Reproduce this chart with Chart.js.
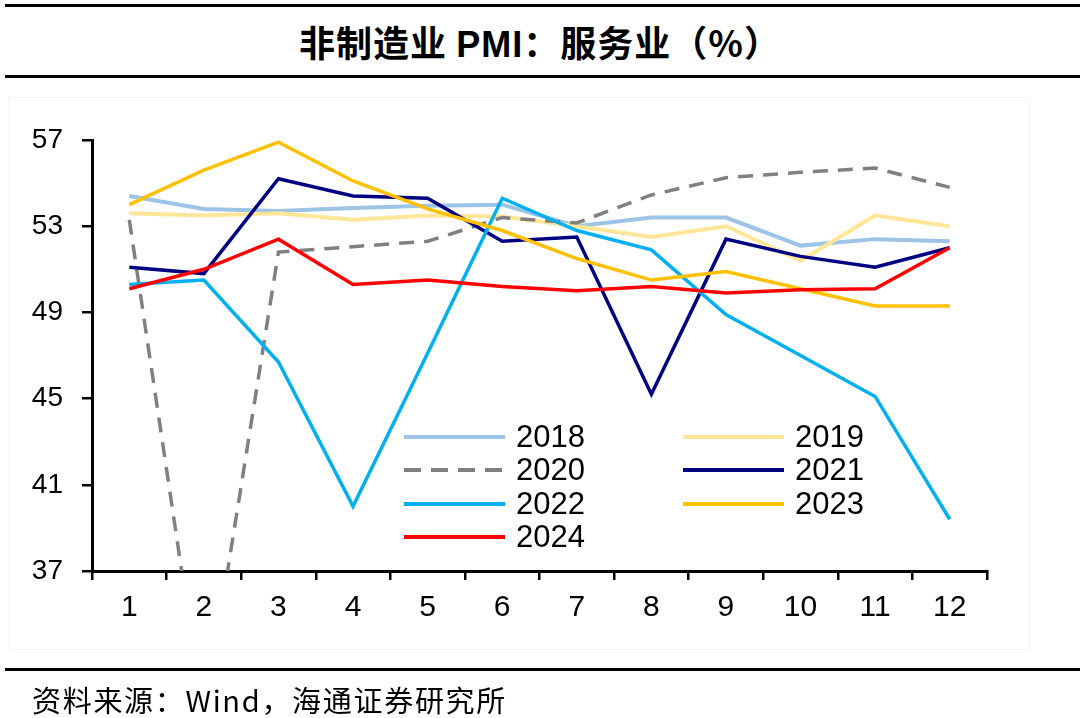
<!DOCTYPE html>
<html lang="zh-CN">
<head>
    <meta charset="UTF-8">
    <title>非制造业PMI：服务业</title>
    <script src="https://cdn.jsdelivr.net/npm/chart.js"></script>
    <style>
        body {
            margin: 0;
            width: 1080px;
            height: 718px;
            background: #fff;
            position: relative;
            overflow: hidden;
            font-family: "Liberation Sans", Arial, sans-serif;
        }
        .rule {
            position: absolute;
            left: 5px;
            right: 0;
            height: 3px;
            background: #000;
        }
        .title {
            position: absolute;
            top: 15px;
            left: 0;
            width: 1080px;
            text-align: center;
            font: bold 36px "Noto Sans CJK SC", sans-serif;
            letter-spacing: 1px;
            color: #000;
        }
        .title b {
            font-family: "Liberation Sans", Arial, sans-serif;
        }
        .panel {
            position: absolute;
            left: 8px;
            top: 97px;
            width: 1020px;
            height: 551px;
            border: 1px solid #f5f5f5;
        }
        #chart {
            position: absolute;
            left: 0;
            top: 0;
        }
        .legend-item {
            position: absolute;
            height: 34px;
            display: flex;
            align-items: center;
            font-size: 31px;
            color: #000;
        }
        .legend-item svg {
            margin-right: 11px;
        }
        .source {
            position: absolute;
            left: 32px;
            top: 678px;
            font: 29px "Noto Sans CJK SC", sans-serif;
            letter-spacing: 1.7px;
            color: #000;
            white-space: nowrap;
        }
    </style>
</head>
<body>
    <div class="rule" style="top:4px"></div>
    <div class="title">非制造业 <b>PMI</b>：服务业（%）</div>
    <div class="rule" style="top:75px"></div>
    <div class="panel"></div>
    <canvas id="chart" width="1080" height="718"></canvas>
    <div id="legend"></div>
    <div class="rule" style="top:668px"></div>
    <div class="source">资料来源：Wind，海通证券研究所</div>

    <script>
        // 月份
        const months = ['1', '2', '3', '4', '5', '6', '7', '8', '9', '10', '11', '12'];
        const years = ['2018', '2019', '2020', '2021', '2022', '2023', '2024'];

        // 服务业PMI
        const pmi2018 = [54.4, 53.8, 53.7, 53.85, 53.95, 54.0, 53.0, 53.4, 53.4, 52.1, 52.4, 52.3];
        const pmi2019 = [53.6, 53.5, 53.6, 53.3, 53.5, 53.45, 53.0, 52.5, 53.0, 51.4, 53.5, 53.0];
        const pmi2020 = [53.3, 30.1, 51.8, 52.05, 52.3, 53.4, 53.15, 54.45, 55.25, 55.5, 55.7, 54.8];
        const pmi2021 = [51.1, 50.8, 55.2, 54.4, 54.3, 52.3, 52.5, 45.2, 52.4, 51.6, 51.1, 52.0];
        const pmi2022 = [50.3, 50.5, 46.7, 40.0, 47.1, 54.3, 52.8, 51.9, 48.9, 47.0, 45.1, 39.4];
        const pmi2023 = [54.0, 55.6, 56.9, 55.1, 53.8, 52.8, 51.5, 50.5, 50.9, 50.1, 49.3, 49.3];
        const pmi2024 = [50.1, 51.0, 52.4, 50.3, 50.5, 50.2, 50.0, 50.2, 49.9, 50.05, 50.1, 52.0];

        const yTicks = [37, 41, 45, 49, 53, 57];

        const seriesData = [pmi2018, pmi2019, pmi2020, pmi2021, pmi2022, pmi2023, pmi2024];
        const colors = ['#9DC3E6', '#FFE699', '#808080', '#000080', '#00B0F0', '#FFC000', '#FF0000'];
        const dashes = [[], [], [15, 10], [], [], [], []];

        const datasets = years.map(function (y, i) {
            return {
                label: y,
                data: seriesData[i],
                borderColor: colors[i],
                borderWidth: i < 2 ? 4 : 3.5,
                borderDash: dashes[i],
                pointRadius: 0,
                tension: 0,
                fill: false,
                order: years.length - i
            };
        });

        const font = "'Liberation Sans', Arial, sans-serif";

        new Chart(document.getElementById('chart'), {
            type: 'line',
            data: { labels: months, datasets: datasets },
            options: {
                responsive: false,
                animation: false,
                devicePixelRatio: 1,
                layout: { padding: { left: 0, right: 93, top: 140, bottom: 87 } },
                plugins: {
                    legend: { display: false },
                    tooltip: { enabled: false }
                },
                scales: {
                    x: {
                        offset: true,
                        grid: {
                            offset: true,
                            drawOnChartArea: false,
                            drawTicks: true,
                            tickLength: 9,
                            color: '#000',
                            lineWidth: 2.5
                        },
                        border: { color: '#000', width: 3 },
                        ticks: {
                            color: '#000',
                            font: { family: font, size: 30 },
                            padding: 10,
                            maxRotation: 0
                        },
                        afterFit: function (s) { s.height = 60; }
                    },
                    y: {
                        min: 37,
                        max: 57,
                        afterBuildTicks: function (s) {
                            s.ticks = yTicks.map(function (v) { return { value: v }; });
                        },
                        grid: {
                            drawOnChartArea: false,
                            drawTicks: true,
                            tickLength: 10,
                            color: '#000',
                            lineWidth: 2.5
                        },
                        border: { color: '#000', width: 3 },
                        ticks: {
                            color: '#000',
                            font: { family: font, size: 28 },
                            padding: 19
                        },
                        afterFit: function (s) { s.width = 92; }
                    }
                }
            }
        });

        // 图例：两列
        const legendBox = document.getElementById('legend');
        years.forEach(function (y, i) {
            const col = i % 2;
            const row = Math.floor(i / 2);
            const item = document.createElement('div');
            item.className = 'legend-item';
            item.style.left = (col === 0 ? 404 : 683) + 'px';
            item.style.top = (420 + row * 33.3) + 'px';
            const dash = dashes[i].length ? 'stroke-dasharray="17 10"' : '';
            item.innerHTML = '<svg width="101" height="6"><line x1="0" y1="3" x2="101" y2="3" stroke="' +
                colors[i] + '" stroke-width="4" ' + dash + '/></svg>' + y;
            legendBox.appendChild(item);
        });
    </script>
</body>
</html>
